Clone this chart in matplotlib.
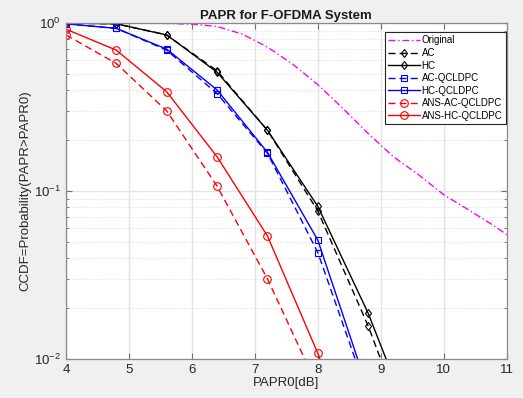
import matplotlib
matplotlib.use("Agg")
import matplotlib.pyplot as plt
from matplotlib.ticker import LogLocator, NullFormatter, FixedLocator

plt.rcParams['font.family'] = ['Liberation Sans', 'DejaVu Sans']
plt.rcParams['mathtext.fontset'] = 'custom'
plt.rcParams['mathtext.rm'] = 'Liberation Sans'
plt.rcParams['mathtext.it'] = 'Liberation Sans'

# Data
x_orig = [4.0, 4.4, 4.8, 5.2, 5.6, 6.0, 6.4, 6.8, 7.2, 7.6, 8.0, 8.4, 8.8, 9.2, 9.6, 10.0, 10.4, 10.8, 11.0]
y_orig = [1.0, 1.0, 1.0, 1.0, 0.995, 0.985, 0.955, 0.86, 0.72, 0.57, 0.43, 0.31, 0.22, 0.16, 0.125, 0.095, 0.077, 0.062, 0.055]

x_pts = [4.0, 4.8, 5.6, 6.4, 7.2, 8.0, 8.8, 9.6]
y_ac = [1.0, 0.99, 0.85, 0.52, 0.23, 0.076, 0.0157, 0.0025]
y_hc = [1.0, 0.99, 0.85, 0.51, 0.23, 0.081, 0.0187, 0.0032]
y_ac_q = [0.99, 0.93, 0.69, 0.38, 0.168, 0.043, 0.006, 0.0008]
y_hc_q = [0.99, 0.93, 0.70, 0.40, 0.17, 0.051, 0.0065, 0.0009]
y_ans_ac = [0.85, 0.575, 0.30, 0.107, 0.030, 0.0068, 0.0009, 0.0001]
y_ans_hc = [0.92, 0.69, 0.39, 0.16, 0.054, 0.0108, 0.0016, 0.0002]

fig = plt.figure(figsize=(5.23, 3.98), dpi=100, facecolor='#f0f0f0')
ax = fig.add_axes([0.126, 0.098, 0.843, 0.844])
ax.set_facecolor('white')

ms = 4.5
dash = (5, 3)
ax.semilogy(x_orig, y_orig, color='#ff00ff', lw=1.0, dashes=(5, 2, 1, 2), label='Original')
ax.semilogy(x_pts, y_ac, color='black', lw=1.0, dashes=dash, marker='d', ms=ms, mfc='none', mew=0.8, label='AC')
ax.semilogy(x_pts, y_hc, '-', color='black', lw=1.0, marker='d', ms=ms, mfc='none', mew=0.8, label='HC')
ax.semilogy(x_pts, y_ac_q, color='#0000ff', lw=1.0, dashes=dash, marker='s', ms=ms, mfc='none', mew=0.8, label='AC-QCLDPC')
ax.semilogy(x_pts, y_hc_q, '-', color='#0000ff', lw=1.0, marker='s', ms=ms, mfc='none', mew=0.8, label='HC-QCLDPC')
ax.semilogy(x_pts, y_ans_ac, color='#ff0000', lw=1.0, dashes=dash, marker='o', ms=ms + 1, mfc='none', mew=0.8, label='ANS-AC-QCLDPC')
ax.semilogy(x_pts, y_ans_hc, '-', color='#ff0000', lw=1.0, marker='o', ms=ms + 1, mfc='none', mew=0.8, label='ANS-HC-QCLDPC')

ax.set_xlim(4, 11)
ax.set_ylim(1e-2, 1)
ax.set_xticks(range(4, 12))
ax.yaxis.set_major_locator(FixedLocator([1e-2, 1e-1, 1]))
ax.yaxis.set_minor_locator(LogLocator(base=10, subs=range(2, 10)))
ax.yaxis.set_minor_formatter(NullFormatter())

ax.grid(True, which='major', color='#e3e3e3', lw=1.0, ls='-')
ax.grid(True, which='minor', axis='y', color='#dcdcdc', lw=0.7, ls=':')
ax.set_axisbelow(True)

for s in ax.spines.values():
    s.set_color('#8a8a8a')
    s.set_linewidth(0.9)
ax.tick_params(which='both', direction='in', top=True, right=True, colors='#6e6e6e', labelcolor='#262626', labelsize=9.5)
ax.tick_params(which='major', length=4)
ax.tick_params(which='minor', length=2)

ax.set_title('PAPR for F-OFDMA System', fontsize=9.5, fontweight='bold', pad=3, color='#1a1a1a')
ax.set_xlabel('PAPR0[dB]', fontsize=9.5, labelpad=1, color='#262626')
ax.set_ylabel('CCDF=Probability(PAPR>PAPR0)', fontsize=9.5, labelpad=2, color='#262626')

# legend: upper-right corner at pixel (506, 32)
fx = (506 - 66) / (507 - 66)
fy = 1 - (32 - 23) / (359 - 23)
leg = ax.legend(loc='upper right', bbox_to_anchor=(fx, fy), fontsize=7, frameon=True, fancybox=False,
                framealpha=1, edgecolor='#262626', borderpad=0.35, labelspacing=0.26, handlelength=3.3,
                handletextpad=0.15, borderaxespad=0.0)
leg.get_frame().set_linewidth(0.8)

fig.savefig('out.png', dpi=100, facecolor=fig.get_facecolor())
